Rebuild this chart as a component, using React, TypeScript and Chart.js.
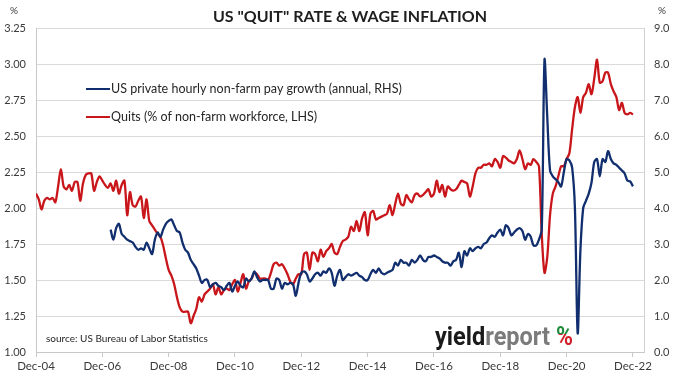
import { useEffect, useRef } from 'react';
import { Chart, registerables } from 'chart.js';

Chart.register(...registerables);

// Month offsets are counted from Dec-04 (0 = Dec-04)
const QUITS_START = 0;
const WAGE_START = 27; // Mar-07

const xTickLabels = ['Dec-04', 'Dec-06', 'Dec-08', 'Dec-10', 'Dec-12', 'Dec-14', 'Dec-16', 'Dec-18', 'Dec-20', 'Dec-22'];
const X_TICK_STEP = 24;
const X_MAX = 220;

const leftTicks = [1.0, 1.25, 1.5, 1.75, 2.0, 2.25, 2.5, 2.75, 3.0, 3.25];
const rightTicks = [0, 1, 2, 3, 4, 5, 6, 7, 8, 9];

const quitsLabel = 'Quits (% of non-farm workforce, LHS)';
const wageLabel = 'US private hourly non-farm pay growth (annual, RHS)';

// Quits rate, % of non-farm workforce (LHS), monthly from Dec-04
const quitsRate = [
  2.10, 2.06, 1.99, 2.05, 2.07, 2.06, 2.07, 2.04, 2.15, 2.27, 2.15, 2.13,
  2.16, 2.12, 2.18, 2.18, 2.05, 2.17, 2.23, 2.24, 2.24, 2.12, 2.18, 2.22,
  2.19, 2.16, 2.14, 2.17, 2.12, 2.19, 2.10, 2.16, 2.19, 1.95, 2.11, 2.02,
  2.01, 2.05, 2.08, 1.93, 2.06, 1.91, 1.88, 1.85, 1.82, 1.80, 1.74, 1.65,
  1.57, 1.53, 1.47, 1.38, 1.31, 1.28, 1.28, 1.28, 1.20, 1.25, 1.30, 1.38,
  1.35, 1.40, 1.42, 1.44, 1.47, 1.40, 1.45, 1.40, 1.43, 1.44, 1.43, 1.47,
  1.50, 1.42, 1.48, 1.54, 1.44, 1.49, 1.51, 1.55, 1.54, 1.51, 1.51, 1.51,
  1.50, 1.55, 1.61, 1.62, 1.60, 1.61, 1.58, 1.54, 1.49, 1.47, 1.51, 1.54,
  1.54, 1.68, 1.69, 1.57, 1.69, 1.68, 1.63, 1.71, 1.66, 1.70, 1.72, 1.75,
  1.69, 1.68, 1.73, 1.77, 1.78, 1.80, 1.87, 1.84, 1.91, 1.84, 1.93, 1.97,
  1.81, 1.96, 1.98, 1.92, 1.93, 1.94, 1.95, 1.96, 2.02, 1.95, 2.03, 2.10,
  2.03, 2.02, 2.09, 2.06, 2.04, 2.09, 2.10, 2.08, 2.09, 2.11, 2.13, 2.08,
  2.10, 2.19, 2.11, 2.16, 2.08, 2.15, 2.13, 2.12, 2.13, 2.16, 2.19, 2.18,
  2.17, 2.08, 2.15, 2.24, 2.28, 2.28, 2.30, 2.30, 2.31, 2.29, 2.34, 2.32,
  2.28, 2.36, 2.35, 2.33, 2.32, 2.31, 2.34, 2.40, 2.34, 2.27, 2.31, 2.30,
  2.34, 2.32, 2.29, 1.82, 1.55, 1.66, 1.95, 2.10, 2.15, 2.22, 2.29, 2.29,
  2.34, 2.38, 2.55, 2.70, 2.77, 2.66, 2.77, 2.80, 2.86, 2.79, 2.90, 3.03,
  2.87, 2.88, 2.94, 2.94, 2.86, 2.81, 2.77, 2.68, 2.73, 2.66, 2.65, 2.66, 2.65,
];

// Private hourly pay growth, % y/y (RHS), monthly from Mar-07
const wageGrowth = [
  3.40, 3.12, 3.44, 3.56, 3.28, 3.20, 3.12, 3.08, 3.04, 2.92, 2.84, 2.88,
  2.84, 3.04, 2.88, 2.72, 3.12, 3.32, 3.20, 3.40, 3.56, 3.64, 3.68, 3.52,
  3.36, 3.32, 3.04, 2.84, 2.76, 2.56, 2.44, 2.32, 2.12, 1.92, 2.00, 2.00,
  1.80, 1.88, 1.92, 1.84, 1.80, 1.72, 1.84, 1.92, 1.68, 1.84, 1.96, 1.84,
  1.80, 2.04, 1.96, 2.04, 2.24, 2.08, 1.96, 2.00, 2.00, 2.00, 1.76, 1.76,
  2.04, 2.00, 1.76, 1.92, 1.88, 1.92, 1.88, 1.56, 1.92, 2.20, 2.24, 2.16,
  1.96, 2.04, 2.16, 2.20, 2.12, 2.24, 2.20, 2.32, 2.20, 1.84, 2.12, 2.28,
  2.00, 2.08, 2.16, 2.12, 2.16, 2.20, 2.12, 2.08, 2.00, 2.00, 2.16, 2.28,
  2.20, 2.32, 2.20, 2.16, 2.20, 2.24, 2.28, 2.48, 2.40, 2.56, 2.48, 2.48,
  2.40, 2.56, 2.48, 2.56, 2.68, 2.56, 2.52, 2.64, 2.64, 2.68, 2.64, 2.60,
  2.52, 2.48, 2.48, 2.40, 2.52, 2.56, 2.76, 2.36, 2.80, 2.68, 2.88, 2.80,
  2.88, 2.92, 2.88, 3.00, 3.04, 3.16, 3.24, 3.20, 3.32, 3.40, 3.24, 3.52,
  3.44, 3.24, 3.32, 3.40, 3.44, 3.36, 3.12, 3.28, 3.20, 2.96, 2.96, 3.12,
  3.40, 8.12, 6.52, 5.04, 4.88, 4.80, 4.72, 4.60, 5.00, 5.36, 5.32, 5.12,
  4.00, 0.52, 2.84, 4.00, 4.20, 4.40, 4.70, 5.28, 5.36, 4.88, 5.36, 5.28,
  5.58, 5.36, 5.24, 5.20, 5.12, 5.04, 4.96, 4.76, 4.74, 4.60,
];

const BLUE = '#112e6e';
const RED = '#c8161b';
const FONT = 'Lato, "Open Sans", sans-serif';
const TEXT = '#3a3a3a';

const overlayPlugin = {
  id: 'overlay',
  afterDraw(chart: any) {
    const ctx = chart.ctx as CanvasRenderingContext2D;
    const area = chart.chartArea;
    ctx.save();
    // Title
    ctx.fillStyle = '#1e1e1e';
    ctx.font = `bold 16px ${FONT}`;
    ctx.textAlign = 'center';
    ctx.textBaseline = 'middle';
    ctx.fillText('US "QUIT" RATE & WAGE INFLATION', 350, 17);
    // Axis unit labels
    ctx.font = `10px ${FONT}`;
    ctx.fillStyle = TEXT;
    ctx.fillText('%', 14, 11);
    ctx.fillText('%', 662, 11);
    // Legend
    const legend = [
      { label: wageLabel, color: BLUE, y: 89 },
      { label: quitsLabel, color: RED, y: 117 },
    ];
    ctx.textAlign = 'left';
    ctx.font = `12.5px ${FONT}`;
    legend.forEach((l) => {
      ctx.strokeStyle = l.color;
      ctx.lineWidth = 2;
      ctx.beginPath();
      ctx.moveTo(86, l.y);
      ctx.lineTo(110, l.y);
      ctx.stroke();
      ctx.fillStyle = '#262626';
      ctx.fillText(l.label, 111, l.y);
    });
    // Source
    ctx.font = `10px ${FONT}`;
    ctx.fillStyle = '#262626';
    ctx.fillText('source: US Bureau of Labor Statistics', 46, 339);
    // Logo
    const base = 345;
    ctx.font = `bold 26px Roboto, ${FONT}`;
    ctx.textBaseline = 'alphabetic';
    const w1 = ctx.measureText('yield').width;
    const w2 = ctx.measureText('report').width;
    const sx = 115 / (w1 + w2);
    ctx.save();
    ctx.translate(435, base);
    ctx.scale(sx, 1);
    ctx.fillStyle = '#1a1a1a';
    ctx.fillText('yield', 0, 0);
    ctx.fillStyle = '#7b7b7b';
    ctx.fillText('report', w1, 0);
    ctx.restore();
    const wp = ctx.measureText('%').width;
    const sp = 17 / wp;
    ctx.save();
    ctx.translate(556, base);
    ctx.scale(sp, 1);
    ctx.save();
    ctx.beginPath();
    ctx.rect(-2, -30, wp + 4, 19);
    ctx.clip();
    ctx.fillStyle = '#1d8a3c';
    ctx.fillText('%', 0, 0);
    ctx.restore();
    ctx.save();
    ctx.beginPath();
    ctx.rect(-2, -11, wp + 4, 16);
    ctx.clip();
    ctx.fillStyle = '#d0202a';
    ctx.fillText('%', 0, 0);
    ctx.restore();
    ctx.restore();
    ctx.restore();
    void area;
  },
};

export default function App() {
  const canvasRef = useRef<HTMLCanvasElement | null>(null);

  useEffect(() => {
    const canvas = canvasRef.current;
    if (!canvas) return;
    const quitsPoints = quitsRate.map((v, i) => ({ x: QUITS_START + i, y: v }));
    const wagePoints = wageGrowth.map((v, i) => ({ x: WAGE_START + i, y: v }));

    const chart = new Chart(canvas, {
      type: 'line',
      data: {
        datasets: [
          {
            label: wageLabel,
            data: wagePoints,
            borderColor: BLUE,
            backgroundColor: BLUE,
            borderWidth: 2.3,
            pointRadius: 0,
            tension: 0.3,
            yAxisID: 'yRight',
          },
          {
            label: quitsLabel,
            data: quitsPoints,
            borderColor: RED,
            backgroundColor: RED,
            borderWidth: 2.3,
            pointRadius: 0,
            tension: 0.3,
            yAxisID: 'yLeft',
          },
        ],
      },
      options: {
        animation: false,
        responsive: false,
        maintainAspectRatio: false,
        layout: { padding: { top: 28, left: 0, right: 0, bottom: 0 } },
        plugins: {
          legend: { display: false },
          title: { display: false },
          tooltip: { enabled: false },
        },
        scales: {
          x: {
            type: 'linear',
            min: 0,
            max: X_MAX,
            afterBuildTicks: (axis: any) => {
              axis.ticks = xTickLabels.map((_, i) => ({ value: i * X_TICK_STEP }));
            },
            afterFit: (axis: any) => {
              axis.height = 24;
            },
            ticks: {
              autoSkip: false,
              maxRotation: 0,
              padding: 2,
              color: TEXT,
              font: { family: FONT, size: 11.5 },
              callback: (v: any) => xTickLabels[Math.round(Number(v) / X_TICK_STEP)] ?? '',
            },
            grid: {
              display: true,
              drawOnChartArea: false,
              drawTicks: true,
              tickLength: 5,
              color: '#c8c8c8',
            },
            border: { display: true, color: '#c8c8c8' },
          },
          yLeft: {
            type: 'linear',
            position: 'left',
            min: 1,
            max: 3.25,
            afterBuildTicks: (axis: any) => {
              axis.ticks = leftTicks.map((v) => ({ value: v }));
            },
            afterFit: (axis: any) => {
              axis.width = 36;
            },
            ticks: {
              padding: 10,
              color: TEXT,
              font: { family: FONT, size: 11 },
              callback: (v: any) => Number(v).toFixed(2),
            },
            grid: { color: '#dadada', drawTicks: false, lineWidth: 1 },
            border: { display: true, color: '#c8c8c8' },
          },
          yRight: {
            type: 'linear',
            position: 'right',
            min: 0,
            max: 9,
            afterBuildTicks: (axis: any) => {
              axis.ticks = rightTicks.map((v) => ({ value: v }));
            },
            afterFit: (axis: any) => {
              axis.width = 46;
            },
            ticks: {
              padding: 10,
              color: TEXT,
              font: { family: FONT, size: 11 },
              callback: (v: any) => Number(v).toFixed(1),
            },
            grid: { drawOnChartArea: false, drawTicks: false },
            border: { display: true, color: '#d0d0d0' },
          },
        },
      },
      plugins: [overlayPlugin],
    } as any);

    return () => chart.destroy();
  }, []);

  return (
    <div style={{ position: 'fixed', left: 0, top: 0, width: 690, height: 376, background: '#fff' }}>
      <canvas ref={canvasRef} width={690} height={376} style={{ width: 690, height: 376, display: 'block' }} />
    </div>
  );
}
